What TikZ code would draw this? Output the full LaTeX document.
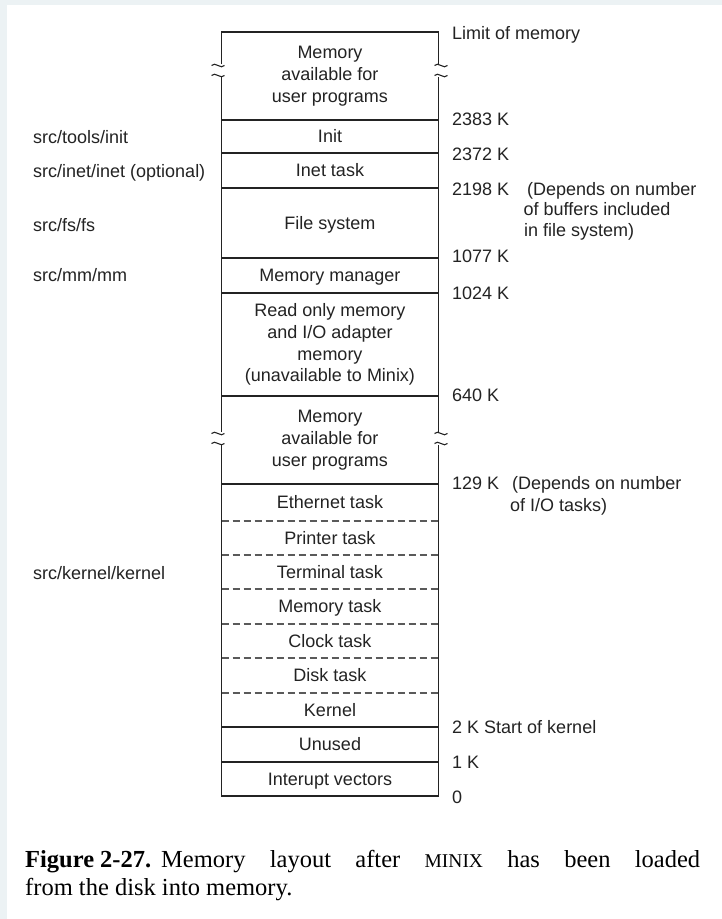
\documentclass[tikz,border=0pt]{standalone}
\usepackage{fontspec}
\setmainfont{Liberation Serif}
\newfontfamily\arialf{Liberation Sans}
\definecolor{bgstrip}{RGB}{236,242,244}
\definecolor{ink}{RGB}{35,35,35}
\begin{document}
\begin{tikzpicture}[x=1pt,y=-1pt,
  lab/.style={font=\arialf\fontsize{18}{21.7}\selectfont, inner sep=0pt, text=ink},
  cell/.style={lab, align=center},
  cellb/.style={lab, anchor=base},
  rlab/.style={lab, anchor=base west},
  llab/.style={lab, anchor=base west},
  frame/.style={draw=ink, line width=1.3pt},
  divider/.style={draw=ink, line width=1.3pt},
  dashdiv/.style={draw=ink!75, line width=1.3pt, dash pattern=on 7pt off 4pt},
  tld/.pic={\draw[ink, line width=1.1pt] (-6.5,0) .. controls (-3,-4.5) and (3,4.5) .. (6.5,0);}
]
\useasboundingbox (0,0) rectangle (722,919);
\fill[bgstrip] (0,0) rectangle (722,919);
\fill[white] (7,5) rectangle (722,919);

% frame with breaks
\draw[frame] (221.5,64) -- (221.5,32) -- (438.5,32) -- (438.5,64);
\draw[frame] (221.5,77) -- (221.5,432);
\draw[frame] (438.5,77) -- (438.5,432);
\draw[frame] (221.5,445) -- (221.5,796) -- (438.5,796) -- (438.5,445);
\pic at (218,65.5) {tld};
\pic at (218,75.5) {tld};
\pic at (441,65.5) {tld};
\pic at (441,75.5) {tld};
\pic at (218,433.5) {tld};
\pic at (218,443.5) {tld};
\pic at (441,433.5) {tld};
\pic at (441,443.5) {tld};

% solid dividers
\foreach \yy in {120,153,188,258,293,396,484,727,762}
  \draw[divider] (221.5,\yy) -- (438.5,\yy);
% dashed dividers
\foreach \yy in {521,555,589,624,658,693}
  \draw[dashdiv] (221.5,\yy) -- (438.5,\yy);

% cell texts
\node[cell] (user1) at (330,76) {Memory\\available for\\user programs};
\node[cellb] (init) at (330,142.8) {Init};
\node[cellb] (inet) at (330,176.8) {Inet task};
\node[cellb] (fs) at (330,229.3) {File system};
\node[cellb] (mm) at (330,281.8) {Memory manager};
\node[cell] (rom) at (330,344.5) {Read only memory\\and I/O adapter\\memory\\(unavailable to Minix)};
\node[cell] (user2) at (330,440) {Memory\\available for\\user programs};
\node[cellb] (eth) at (330,508.8) {Ethernet task};
\node[cellb] (prn) at (330,544.3) {Printer task};
\node[cellb] (term) at (330,578.3) {Terminal task};
\node[cellb] (memt) at (330,612.8) {Memory task};
\node[cellb] (clk) at (330,647.3) {Clock task};
\node[cellb] (dsk) at (330,681.8) {Disk task};
\node[cellb] (kern) at (330,716.3) {Kernel};
\node[cellb] (unused) at (330,750.8) {Unused};
\node[cellb] (intv) at (330,785.3) {Interupt vectors};

% right labels
\node[rlab] (limit) at (452,39.3) {Limit of memory};
\node[rlab] (a2383) at (452,125.3) {2383 K};
\node[rlab] (a2372) at (452,160.3) {2372 K};
\node[rlab] (a2198) at (452,195.3) {2198 K};
\node[rlab] (n1a) at (527,195.3) {(Depends on number};
\node[rlab] (n1b) at (523.5,215.3) {of buffers included};
\node[rlab] (n1c) at (524,236.3) {in file system)};
\node[rlab] (a1077) at (452,262.3) {1077 K};
\node[rlab] (a1024) at (452,299.3) {1024 K};
\node[rlab] (a640) at (452,401.8) {640 K};
\node[rlab] (a129) at (452,489.8) {129 K};
\node[rlab] (n2a) at (512,489.8) {(Depends on number};
\node[rlab] (n2b) at (510,511.3) {of I/O tasks)};
\node[rlab] (a2) at (452,733.3) {2 K Start of kernel};
\node[rlab] (a1) at (452,768.3) {1 K};
\node[rlab] (a0) at (452,803.3) {0};

% left labels
\node[llab] (sinit) at (33,143.3) {src/tools/init};
\node[llab] (sinet) at (33,177.3) {src/inet/inet (optional)};
\node[llab] (sfs) at (33,231.3) {src/fs/fs};
\node[llab] (smm) at (33,281.3) {src/mm/mm};
\node[llab] (skern) at (33,579.3) {src/kernel/kernel};

% caption
\node[anchor=base west, text width=675pt, align=justify, inner sep=0pt,
      font=\fontsize{24.5}{28.3}\selectfont] (cap) at (25,867)
  {\textbf{Figure\hspace{6pt}2-27.}\hspace{10pt}Memory layout after {\fontsize{19.5}{19.5}\selectfont MINIX} has been loaded\linebreak from the disk into memory.};
\end{tikzpicture}
\end{document}
